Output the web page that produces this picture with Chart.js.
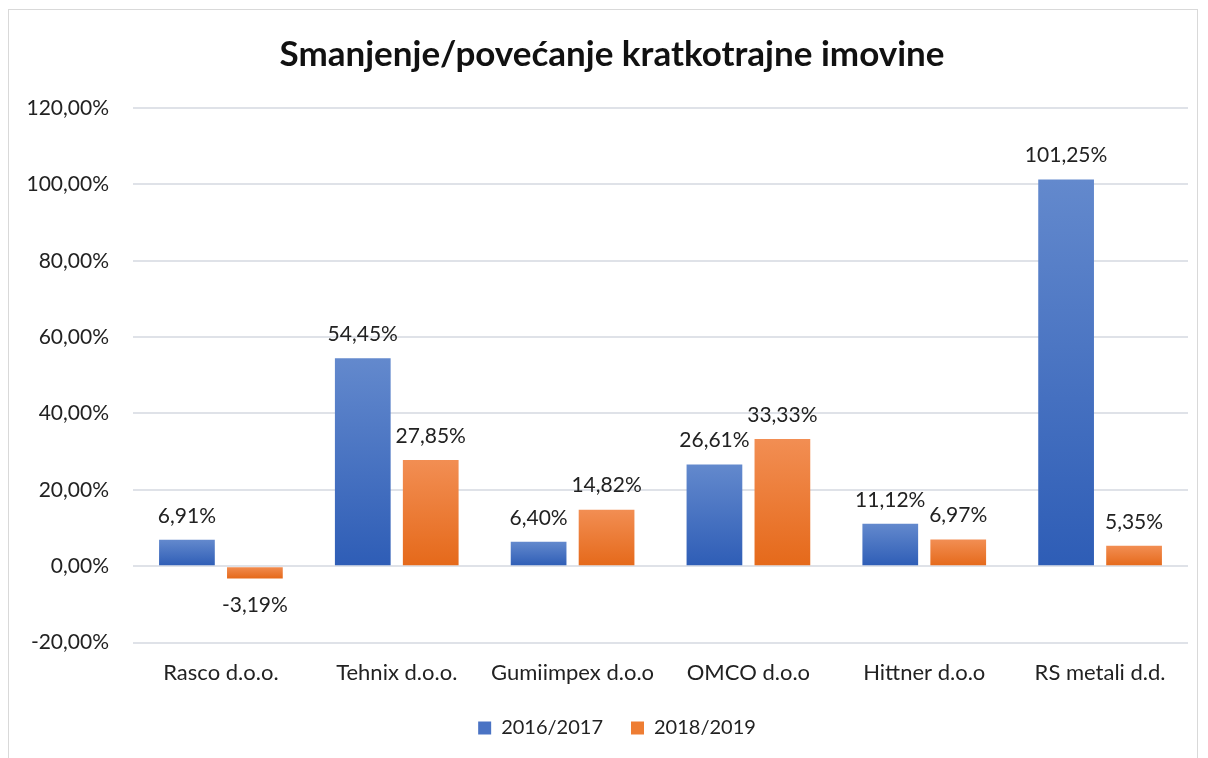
<!DOCTYPE html>
<html>
<head>
<meta charset="utf-8">
<script src="https://cdn.jsdelivr.net/npm/chart.js@4/dist/chart.umd.min.js"></script>
<style>
  html, body { margin: 0; padding: 0; background: #fff; overflow: hidden; }
  canvas { display: block; }
</style>
</head>
<body>
<canvas id="chart" width="1208" height="758"></canvas>
<script>
const companies = ['Rasco d.o.o.', 'Tehnix d.o.o.', 'Gumiimpex d.o.o', 'OMCO d.o.o', 'Hittner d.o.o', 'RS metali d.d.'];
const period1 = [6.91, 54.45, 6.40, 26.61, 11.12, 101.25];
const period2 = [-3.19, 27.85, 14.82, 33.33, 6.97, 5.35];
const seriesNames = ['2016/2017', '2018/2019'];

const FONT = 'Lato, "Open Sans", sans-serif';
const fmt = v => v.toFixed(2).replace('.', ',') + '%';

// vertical gradient per bar, light on top, darker at the base
const barGradient = (top, bottom) => ctx => {
  const chart = ctx.chart;
  const y = chart.scales && chart.scales.y;
  if (!y || ctx.raw === undefined) return bottom;
  const yv = y.getPixelForValue(ctx.raw);
  const y0 = y.getPixelForValue(0);
  if (!isFinite(yv) || Math.abs(yv - y0) < 1) return bottom;
  const g = chart.ctx.createLinearGradient(0, Math.min(yv, y0), 0, Math.max(yv, y0));
  g.addColorStop(0, top);
  g.addColorStop(1, bottom);
  return g;
};

const frame = {
  id: 'frame',
  beforeDraw(chart) {
    const c = chart.ctx;
    c.save();
    c.fillStyle = '#fff';
    c.fillRect(0, 0, chart.width, chart.height);
    c.strokeStyle = '#d9d9d9';
    c.lineWidth = 1;
    c.strokeRect(8.5, 9.5, 1189, 760);
    c.restore();
  }
};

// nudge title and legend so they sit centred like in the original
const nudge = {
  id: 'nudge',
  afterLayout(chart) {
    const t = chart.titleBlock, l = chart.legend;
    if (t) { t.left += 11; t.right += 11; }
    if (l) { l.left += 16; l.right += 16; l.top -= 5; l.bottom -= 5; }
  }
};

const valueLabels = {
  id: 'valueLabels',
  afterDatasetsDraw(chart) {
    const c = chart.ctx;
    c.save();
    c.font = '21px ' + FONT;
    c.fillStyle = '#222';
    c.textAlign = 'center';
    c.textBaseline = 'middle';
    chart.data.datasets.forEach((ds, i) => {
      chart.getDatasetMeta(i).data.forEach((bar, j) => {
        const v = ds.data[j];
        const y = v >= 0 ? bar.y - 24 : bar.y + 27;
        c.fillText(fmt(v), bar.x, y);
      });
    });
    c.restore();
  }
};

new Chart(document.getElementById('chart'), {
  type: 'bar',
  data: {
    labels: companies,
    datasets: [
      {
        label: seriesNames[0],
        data: period1,
        backgroundColor: barGradient('#6389cd', '#2e5db6'),
        categoryPercentage: 0.773,
        barPercentage: 0.82
      },
      {
        label: seriesNames[1],
        data: period2,
        backgroundColor: barGradient('#f28e53', '#e5691a'),
        categoryPercentage: 0.773,
        barPercentage: 0.82
      }
    ]
  },
  options: {
    responsive: false,
    animation: false,
    devicePixelRatio: 1,
    layout: { padding: { top: 14, right: 20, bottom: 5, left: 14 } },
    plugins: {
      title: {
        display: true,
        text: 'Smanjenje/povećanje kratkotrajne imovine',
        color: '#111',
        font: { family: FONT, size: 35, weight: 'bold' },
        padding: { top: 20, bottom: 32 }
      },
      legend: {
        position: 'bottom',
        labels: {
          color: '#222',
          font: { family: FONT, size: 20 },
          boxWidth: 13,
          boxHeight: 13,
          padding: 28,
          generateLabels(chart) {
            const cols = ['#4a73c4', '#ee7d33'];
            return chart.data.datasets.map((ds, i) => ({
              text: ds.label,
              fillStyle: cols[i],
              strokeStyle: cols[i],
              lineWidth: 0,
              datasetIndex: i,
              fontColor: '#222'
            }));
          }
        }
      },
      tooltip: { enabled: false }
    },
    scales: {
      x: {
        grid: { display: false },
        border: { display: false },
        ticks: { color: '#222', font: { family: FONT, size: 22 }, padding: 9 }
      },
      y: {
        min: -20,
        max: 120,
        afterFit(scale) { scale.width = 119; },
        grid: { color: '#dfe2e8', lineWidth: 2, drawTicks: false },
        border: { display: false },
        ticks: {
          stepSize: 20,
          color: '#222',
          font: { family: FONT, size: 21 },
          padding: 24,
          callback: v => fmt(v)
        }
      }
    }
  },
  plugins: [frame, nudge, valueLabels]
});
</script>
</body>
</html>
